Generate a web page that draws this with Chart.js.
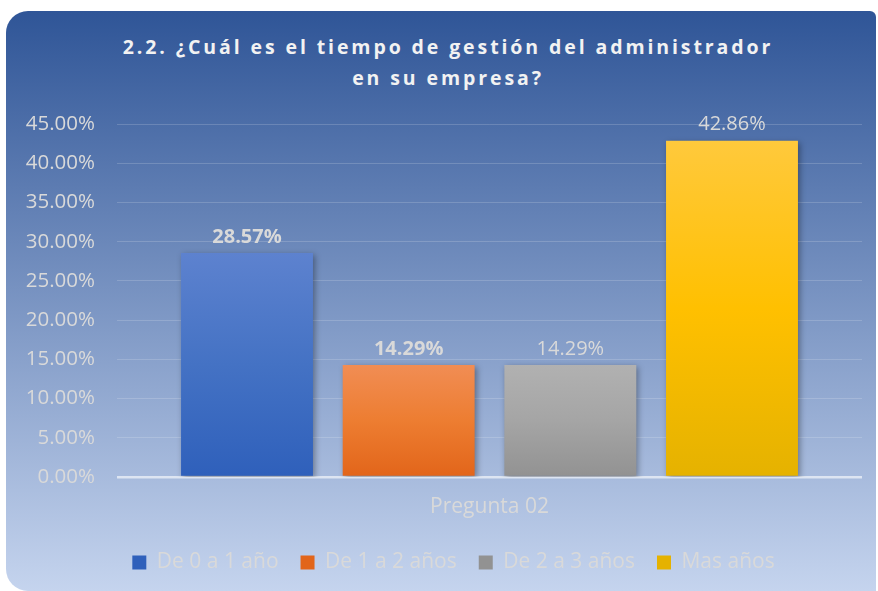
<!DOCTYPE html>
<html>
<head>
<meta charset="utf-8">
<script src="https://cdn.jsdelivr.net/npm/chart.js@4/dist/chart.umd.min.js"></script>
<style>
    body { margin: 0; background: #ffffff; }
    .wrap { position: relative; width: 878px; height: 591px; overflow: hidden; }
    .panel {
        position: absolute; left: 6px; top: 11px; width: 870px; height: 580px;
        border-radius: 22px 6px 0 22px;
        background: linear-gradient(to bottom, #2f5597 0%, #c5d4ee 100%);
    }
    .title {
        position: absolute; left: 0; top: 31px; width: 896px;
        text-align: center; color: #f2f2f2;
        font: bold 19.5px "Open Sans", sans-serif; line-height: 31px;
        letter-spacing: 2.9px;
    }
    canvas { position: absolute; left: 0; top: 0; }
</style>
</head>
<body>
<div class="wrap">
    <div class="panel"></div>
    <div class="title">2.2. ¿Cuál es el tiempo de gestión del administrador<br>en su empresa?</div>
    <canvas id="chart" width="878" height="591"></canvas>
</div>
<script>
/* ============================================= */
/*                     Data                      */
/* ============================================= */

const categories = ["Pregunta 02"];
const seriesNames = ["De 0 a 1 año", "De 1 a 2 años", "De 2 a 3 años", "Mas años"];
const seriesValues = [28.57, 14.29, 14.29, 42.86];
const yTicks = [0, 5, 10, 15, 20, 25, 30, 35, 40, 45];

// top / middle / bottom of each bar's gradient
const barColors = [
    ['#5d82cf', '#4472c4', '#2f60bb'],
    ['#f18d54', '#ed7d31', '#e2651a'],
    ['#b1b1b1', '#a5a5a5', '#929292'],
    ['#ffc93c', '#ffc000', '#e5b200']
];
const labelBold = [true, true, false, false];

const textColor = '#d9d9d9';
const font = '"Open Sans", sans-serif';

function barFill(colors) {
    return (c) => {
        const chart = c.chart;
        if (!chart.chartArea || c.type !== 'data' || !c.parsed) return colors[1];
        const y = chart.scales.y;
        const top = y.getPixelForValue(c.parsed.y);
        const bottom = y.getPixelForValue(0);
        const g = chart.ctx.createLinearGradient(0, top, 0, bottom);
        g.addColorStop(0, colors[0]);
        g.addColorStop(0.5, colors[1]);
        g.addColorStop(1, colors[2]);
        return g;
    };
}

/* ============================================= */
/*                   Plugins                     */
/* ============================================= */

// soft drop shadow under each bar
const barShadow = {
    id: 'barShadow',
    beforeDatasetDraw(chart) {
        const ctx = chart.ctx;
        ctx.save();
        ctx.shadowColor = 'rgba(0, 0, 0, 0.35)';
        ctx.shadowBlur = 6;
        ctx.shadowOffsetX = 2;
        ctx.shadowOffsetY = 2;
    },
    afterDatasetDraw(chart) {
        chart.ctx.restore();
    }
};

// value labels above the bars
const valueLabels = {
    id: 'valueLabels',
    afterDatasetsDraw(chart) {
        const ctx = chart.ctx;
        ctx.save();
        ctx.fillStyle = textColor;
        ctx.textAlign = 'center';
        ctx.textBaseline = 'bottom';
        chart.data.datasets.forEach((ds, i) => {
            const meta = chart.getDatasetMeta(i);
            meta.data.forEach((bar, j) => {
                ctx.font = (labelBold[i] ? 'bold ' : '') + '20px ' + font;
                ctx.fillText(ds.data[j].toFixed(2) + '%', bar.x, bar.y - 6);
            });
        });
        ctx.restore();
    }
};

// centre the legend under the whole panel rather than the canvas
const legendShift = {
    id: 'legendShift',
    afterLayout(chart) {
        if (chart.legend) chart.legend.left = 45;
    }
};

/* ============================================= */
/*                   Bar Chart                   */
/* ============================================= */

const chartData = {
    labels: categories,
    datasets: seriesNames.map((name, i) => ({
        label: name,
        data: [seriesValues[i]],
        backgroundColor: barFill(barColors[i]),
        borderWidth: 0,
        categoryPercentage: 0.868,
        barPercentage: 0.816
    }))
};

const chartOptions = {
    responsive: false,
    animation: false,
    layout: {
        padding: { left: 0, top: 124, right: 16, bottom: 8 }
    },
    scales: {
        x: {
            grid: { display: false },
            border: { display: false },
            ticks: { color: textColor, font: { family: font, size: 21 }, padding: 9 },
            afterFit: (s) => { s.height = 53; }
        },
        y: {
            min: 0,
            max: 45,
            afterBuildTicks: (s) => { s.ticks = yTicks.map(v => ({ value: v })); },
            grid: {
                drawTicks: false,
                color: (c) => c.tick && c.tick.value === 0 ? 'rgba(230, 236, 246, 0.85)' : 'rgba(255, 255, 255, 0.17)',
                lineWidth: (c) => c.tick && c.tick.value === 0 ? 2.5 : 1
            },
            border: { display: false },
            ticks: {
                color: textColor,
                font: { family: font, size: 20.5 },
                padding: 22,
                callback: (v) => v.toFixed(2) + '%'
            },
            afterFit: (s) => { s.width = 117; }
        }
    },
    plugins: {
        legend: {
            position: 'bottom',
            labels: {
                color: textColor,
                font: { family: font, size: 21 },
                boxWidth: 14,
                boxHeight: 14,
                padding: 22
            }
        },
        tooltip: { enabled: false }
    }
};

new Chart(document.getElementById('chart'), {
    type: 'bar',
    data: chartData,
    options: chartOptions,
    plugins: [barShadow, valueLabels, legendShift]
});
</script>
</body>
</html>
